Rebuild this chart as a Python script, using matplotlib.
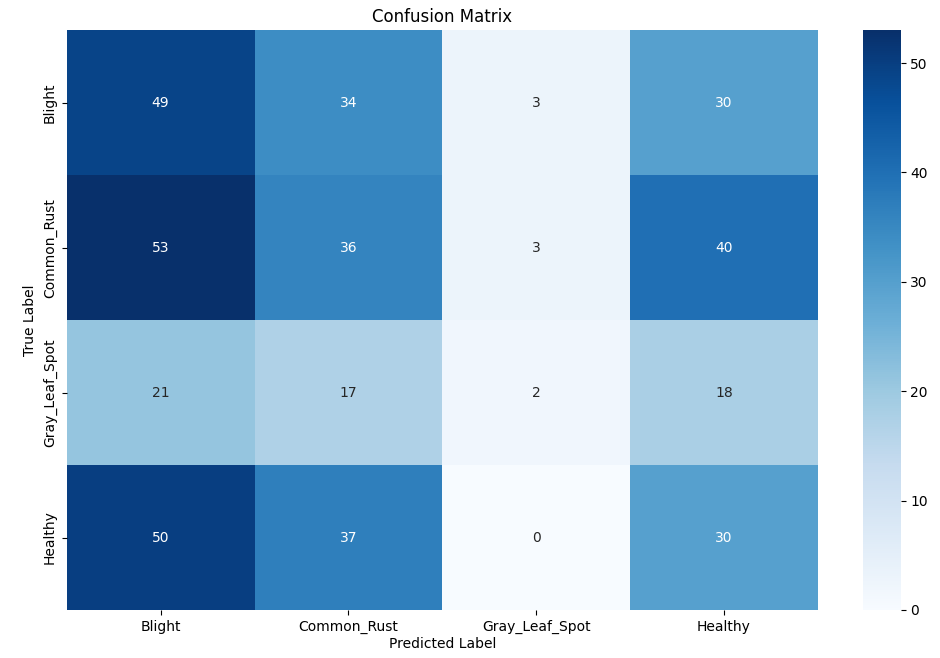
import matplotlib
matplotlib.use("Agg")
import matplotlib.pyplot as plt
import seaborn as sns
import numpy as np

classes = ["Blight", "Common_Rust", "Gray_Leaf_Spot", "Healthy"]
row_blight = [49, 34, 3, 30]
row_common_rust = [53, 36, 3, 40]
row_gray_leaf_spot = [21, 17, 2, 18]
row_healthy = [50, 37, 0, 30]

cm = np.array([row_blight, row_common_rust, row_gray_leaf_spot, row_healthy])

fig = plt.figure(figsize=(9.4, 6.58), dpi=100)
ax = fig.add_axes([0.071, 0.073, 0.799, 0.881])
cax = fig.add_axes([0.918, 0.073, 0.040, 0.881])

sns.heatmap(cm, annot=True, fmt="d", cmap="Blues", xticklabels=classes,
            yticklabels=classes, ax=ax, cbar_ax=cax, annot_kws={"fontsize": 10})
ax.set_title("Confusion Matrix", fontsize=12)
ax.set_xlabel("Predicted Label", fontsize=10, labelpad=2)
ax.set_ylabel("True Label", fontsize=10)
ax.tick_params(axis="both", labelsize=10)
cax.tick_params(labelsize=10)

fig.savefig("out.png", dpi=100)
